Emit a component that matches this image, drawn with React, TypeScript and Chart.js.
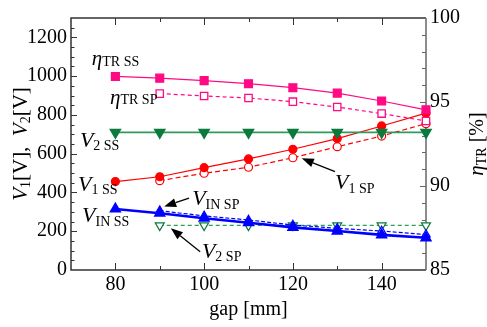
import React, { useEffect, useRef } from "react";
import { Chart, registerables } from "chart.js";

Chart.register(...registerables);

// ---- data ----
const gapSS = [80, 90, 100, 110, 120, 130, 140, 150];
const gapSP = [90, 100, 110, 120, 130, 140, 150];
const etaSS = [96.52, 96.42, 96.27, 96.09, 95.85, 95.53, 95.06, 94.53];
const etaSP = [95.5, 95.36, 95.24, 95.02, 94.7, 94.31, 93.87];
const v2SS = [710, 710, 710, 710, 710, 710, 710, 710];
const v1SS = [456, 481, 528, 573, 623, 678, 743, 809];
const v1SP = [461, 499, 530, 579, 636, 691, 755];
const vinSS = [315, 293, 267, 244, 220, 201, 181, 166];
const vinSP = [306, 279, 258, 232, 215, 201, 183];
const v2SP = [230, 230, 230, 230, 230, 230, 230];

const xTickLabels = [80, 100, 120, 140];
const yTickLabels = [0, 200, 400, 600, 800, 1000, 1200];
const y1TickLabels = [85, 90, 95, 100];

const FONT = '"Liberation Serif", "Times New Roman", serif';
const MAG = "#ff0a84";
const GREEN_LINE = "#2f9a5c";
const GREEN = "#0b7a3c";
const RED = "#ff0000";
const BLUE = "#0000ff";

type Part = { t: string; size: number; italic?: boolean; dy?: number };

const sub = (t: string, dy = 3): Part => ({ t, size: 14, dy });
const V: Part = { t: "V", size: 22, italic: true };
const ETA: Part = { t: "η", size: 21, italic: true };

// annotation labels: left edge (x data), baseline (left-axis data)
const labels: { parts: Part[]; x: number; y: number }[] = [
  { parts: [ETA, sub("TR SS", 1)], x: 74.7, y: 1057 },
  { parts: [ETA, sub("TR SP", 0)], x: 78.8, y: 856 },
  { parts: [V, sub("2 SS")], x: 72.0, y: 634 },
  { parts: [V, sub("1 SS")], x: 71.6, y: 408 },
  { parts: [V, sub("IN SS", 4)], x: 72.5, y: 250 },
  { parts: [V, sub("IN SP", 4)], x: 97.3, y: 335 },
  { parts: [V, sub("2 SP")], x: 99.5, y: 62 },
  { parts: [V, sub("1 SP", 4)], x: 129.5, y: 418 },
];

// arrows: tail -> tip in data units (x, left y)
const arrows = [
  { from: [129.5, 507], to: [122.0, 576] },
  { from: [96.6, 371], to: [91.0, 327] },
  { from: [99.1, 94], to: [92.5, 215] },
];

function setFont(ctx: CanvasRenderingContext2D, p: Part) {
  ctx.font = `${p.italic ? "italic " : ""}${p.size}px ${FONT}`;
}
function measureRich(ctx: CanvasRenderingContext2D, parts: Part[]) {
  let w = 0;
  for (const p of parts) {
    setFont(ctx, p);
    w += ctx.measureText(p.t).width;
  }
  return w;
}
function drawRich(ctx: CanvasRenderingContext2D, parts: Part[], x: number, y: number) {
  let cx = x;
  ctx.textAlign = "left";
  ctx.textBaseline = "alphabetic";
  for (const p of parts) {
    setFont(ctx, p);
    ctx.fillText(p.t, cx, y + (p.dy || 0));
    cx += ctx.measureText(p.t).width;
  }
}

const decor = {
  id: "decor",
  beforeDatasetsDraw(chart: any) {
    const { ctx, chartArea: a, scales } = chart;
    const { x, y, y1 } = scales;
    ctx.save();
    ctx.lineCap = "butt";
    // frame
    ctx.lineWidth = 1.5;
    ctx.strokeStyle = "#333";
    ctx.beginPath();
    ctx.moveTo(a.right, a.top);
    ctx.lineTo(a.left, a.top);
    ctx.lineTo(a.left, a.bottom);
    ctx.lineTo(a.right, a.bottom);
    ctx.stroke();
    ctx.strokeStyle = "#666";
    ctx.beginPath();
    ctx.moveTo(a.right, a.top);
    ctx.lineTo(a.right, a.bottom);
    ctx.stroke();
    // ticks
    ctx.lineWidth = 1;
    ctx.strokeStyle = "#333";
    ctx.beginPath();
    for (const t of x.ticks) {
      if (t.value <= x.min || t.value >= x.max) continue;
      const px = Math.round(x.getPixelForValue(t.value)) + 0.5;
      const len = xTickLabels.includes(t.value) ? 7 : 4;
      ctx.moveTo(px, a.bottom);
      ctx.lineTo(px, a.bottom - len);
      ctx.moveTo(px, a.top);
      ctx.lineTo(px, a.top + len);
    }
    for (const t of y.ticks) {
      if (t.value <= y.min || t.value >= y.max) continue;
      const py = Math.round(y.getPixelForValue(t.value)) + 0.5;
      const len = yTickLabels.includes(t.value) ? 6 : 3.5;
      ctx.moveTo(a.left, py);
      ctx.lineTo(a.left + len, py);
    }
    ctx.stroke();
    ctx.strokeStyle = "#666";
    ctx.beginPath();
    for (const t of y1.ticks) {
      if (t.value <= y1.min || t.value >= y1.max) continue;
      const py = Math.round(y1.getPixelForValue(t.value)) + 0.5;
      const len = y1TickLabels.includes(t.value) ? 6 : 4;
      ctx.moveTo(a.right, py);
      ctx.lineTo(a.right - len, py);
    }
    ctx.stroke();
    ctx.restore();
  },
  afterDatasetsDraw(chart: any) {
    const { ctx, chartArea: a, scales } = chart;
    const { x, y } = scales;
    ctx.save();
    ctx.fillStyle = "#000";
    for (const l of labels) {
      drawRich(ctx, l.parts, x.getPixelForValue(l.x), y.getPixelForValue(l.y));
    }
    // arrows
    ctx.strokeStyle = "#000";
    ctx.fillStyle = "#000";
    ctx.lineWidth = 1.3;
    for (const ar of arrows) {
      const x0 = x.getPixelForValue(ar.from[0]);
      const y0 = y.getPixelForValue(ar.from[1]);
      const x1 = x.getPixelForValue(ar.to[0]);
      const y1p = y.getPixelForValue(ar.to[1]);
      const ang = Math.atan2(y1p - y0, x1 - x0);
      const L = 12;
      const W = 4.5;
      const bx = x1 - L * Math.cos(ang);
      const by = y1p - L * Math.sin(ang);
      ctx.beginPath();
      ctx.moveTo(x0, y0);
      ctx.lineTo(bx, by);
      ctx.stroke();
      ctx.beginPath();
      ctx.moveTo(x1, y1p);
      ctx.lineTo(bx + W * Math.sin(ang), by - W * Math.cos(ang));
      ctx.lineTo(bx - W * Math.sin(ang), by + W * Math.cos(ang));
      ctx.closePath();
      ctx.fill();
    }
    // left axis title (rotated)
    const leftTitle: Part[] = [
      { t: "V", size: 21, italic: true },
      { t: "1", size: 14, dy: 3 },
      { t: "[V],  ", size: 21 },
      { t: "V", size: 21, italic: true },
      { t: "2", size: 14, dy: 3 },
      { t: "[V]", size: 21 },
    ];
    const midY = (a.top + a.bottom) / 2;
    let w = measureRich(ctx, leftTitle);
    ctx.save();
    ctx.translate(27, midY);
    ctx.rotate(-Math.PI / 2);
    drawRich(ctx, leftTitle, -w / 2, 0);
    ctx.restore();
    const rightTitle: Part[] = [
      { t: "η", size: 21, italic: true },
      { t: "TR", size: 14, dy: 3 },
      { t: " [%]", size: 20 },
    ];
    w = measureRich(ctx, rightTitle);
    ctx.save();
    ctx.translate(483, midY);
    ctx.rotate(-Math.PI / 2);
    drawRich(ctx, rightTitle, -w / 2, 0);
    ctx.restore();
    ctx.restore();
  },
};

const pts = (xs: number[], ys: number[]) => xs.map((v, i) => ({ x: v, y: ys[i] }));

export default function App() {
  const ref = useRef<HTMLCanvasElement>(null);
  useEffect(() => {
    if (!ref.current) return;
    const tickFont = { family: FONT, size: 20 };
    const chart = new Chart(ref.current, {
      type: "line",
      data: {
        datasets: [
          {
            label: "etaSS",
            data: pts(gapSS, etaSS),
            yAxisID: "y1",
            borderColor: MAG,
            backgroundColor: MAG,
            pointBackgroundColor: MAG,
            pointStyle: "rect",
            pointRadius: 5.6,
            borderWidth: 1.2,
            clip: false,
          },
          {
            label: "etaSP",
            data: pts(gapSP, etaSP),
            yAxisID: "y1",
            borderColor: MAG,
            backgroundColor: "#fff",
            pointBackgroundColor: "#fff",
            pointBorderWidth: 1.3,
            pointStyle: "rect",
            pointRadius: 5.2,
            borderWidth: 1.2,
            borderDash: [4, 3],
            clip: false,
          },
          {
            label: "v2SS",
            data: pts(gapSS, v2SS),
            yAxisID: "y",
            borderColor: GREEN_LINE,
            backgroundColor: GREEN,
            pointBackgroundColor: GREEN,
            pointBorderColor: GREEN,
            pointStyle: "triangle",
            rotation: 180,
            pointRadius: 5.5,
            borderWidth: 1.8,
            clip: false,
          },
          {
            label: "v1SS",
            data: pts(gapSS, v1SS),
            yAxisID: "y",
            borderColor: RED,
            backgroundColor: RED,
            pointBackgroundColor: RED,
            pointStyle: "circle",
            pointRadius: 4,
            borderWidth: 1.2,
            clip: false,
          },
          {
            label: "v1SP",
            data: pts(gapSP, v1SP),
            yAxisID: "y",
            borderColor: RED,
            backgroundColor: "#fff",
            pointBackgroundColor: "#fff",
            pointBorderWidth: 1.2,
            pointStyle: "circle",
            pointRadius: 4,
            borderWidth: 1.2,
            borderDash: [5, 3],
            clip: false,
          },
          {
            label: "vinSS",
            data: pts(gapSS, vinSS),
            yAxisID: "y",
            borderColor: BLUE,
            backgroundColor: BLUE,
            pointBackgroundColor: BLUE,
            pointStyle: "triangle",
            pointRadius: 4.6,
            borderWidth: 2.6,
            clip: false,
          },
          {
            label: "vinSP",
            data: pts(gapSP, vinSP),
            yAxisID: "y",
            borderColor: BLUE,
            backgroundColor: "#fff",
            pointBackgroundColor: "#fff",
            pointBorderWidth: 1.2,
            pointStyle: "triangle",
            pointRadius: 4.8,
            borderWidth: 1.2,
            borderDash: [4, 2],
            clip: false,
          },
          {
            label: "v2SP",
            data: pts(gapSP, v2SP),
            yAxisID: "y",
            borderColor: "#2aa05a",
            backgroundColor: "#fff",
            pointBackgroundColor: "#fff",
            pointBorderColor: GREEN,
            pointBorderWidth: 1.2,
            pointStyle: "triangle",
            rotation: 180,
            pointRadius: 5.2,
            borderWidth: 1.3,
            borderDash: [4, 3],
            clip: false,
          },
        ],
      },
      options: {
        responsive: false,
        animation: false,
        events: [],
        layout: { padding: { top: 18, left: 0, right: 0, bottom: 0 } },
        plugins: { legend: { display: false }, tooltip: { enabled: false }, title: { display: false } },
        elements: { line: { tension: 0 } },
        scales: {
          x: {
            type: "linear",
            position: "bottom",
            min: 70,
            max: 150,
            grid: { display: false, drawTicks: false },
            border: { display: false },
            ticks: {
              stepSize: 10,
              autoSkip: false,
              maxRotation: 0,
              padding: 3,
              color: "#000",
              font: tickFont,
              callback: (v: any) => (xTickLabels.includes(Number(v)) ? String(v) : ""),
            },
            title: {
              display: true,
              text: "gap [mm]",
              color: "#000",
              font: tickFont,
              padding: { top: 0, bottom: 5 },
            },
            afterFit: (s: any) => {
              s.height = 57;
            },
          },
          y: {
            type: "linear",
            position: "left",
            min: 0,
            max: 1300,
            grid: { display: false, drawTicks: false },
            border: { display: false },
            ticks: {
              stepSize: 50,
              autoSkip: false,
              padding: 4,
              color: "#000",
              font: tickFont,
              callback: (v: any) => (yTickLabels.includes(Number(v)) ? String(v) : ""),
            },
            afterFit: (s: any) => {
              s.width = 71;
            },
          },
          y1: {
            type: "linear",
            position: "right",
            min: 85,
            max: 100,
            grid: { display: false, drawTicks: false },
            border: { display: false },
            ticks: {
              stepSize: 1,
              autoSkip: false,
              padding: 4,
              color: "#000",
              font: tickFont,
              callback: (v: any) => (y1TickLabels.includes(Number(v)) ? String(v) : ""),
            },
            afterFit: (s: any) => {
              s.width = 61;
            },
          },
        },
      },
      plugins: [decor],
    } as any);
    return () => chart.destroy();
  }, []);
  return (
    <div style={{ position: "absolute", left: 0, top: 0, width: 487, height: 327, background: "#fff" }}>
      <canvas ref={ref} width={487} height={327} />
    </div>
  );
}
